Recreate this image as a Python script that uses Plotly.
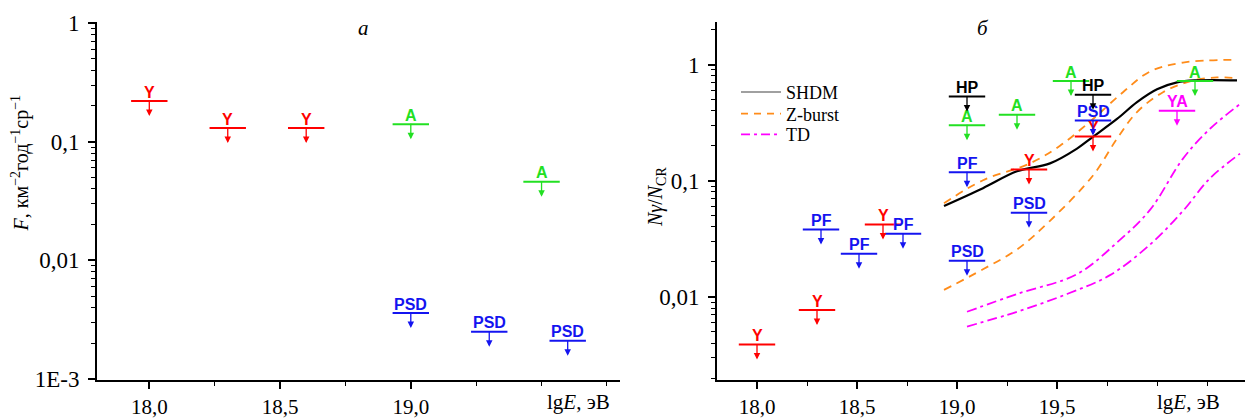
import numpy as np
import plotly.graph_objects as go

# ---------------- data ----------------
# Panel a (flux upper limits)
a_Y_x = [18.0, 18.3, 18.6]
a_Y_v = [0.22, 0.13, 0.13]
a_A_x = [19.0, 19.5]
a_A_v = [0.14, 0.046]
a_PSD_x = [19.0, 19.3, 19.6]
a_PSD_v = [0.0036, 0.0025, 0.0021]

# Panel b (photon fraction upper limits)
b_Y_x = [18.0, 18.3, 18.63, 19.36, 19.68]
b_Y_v = [0.0039, 0.0077, 0.042, 0.125, 0.24]
b_PF_x = [18.32, 18.51, 18.73, 19.05]
b_PF_v = [0.038, 0.0235, 0.035, 0.118]
b_PSD_x = [19.05, 19.36, 19.68]
b_PSD_v = [0.0205, 0.053, 0.33]
b_A_x = [19.05, 19.3, 19.57, 20.19]
b_A_v = [0.30, 0.37, 0.72, 0.72]
b_HP_x = [19.05, 19.68]
b_HP_v = [0.53, 0.55]
b_YA_x = [20.1]
b_YA_v = [0.40]

# Model curves
shdm_x = [18.935, 19.13, 19.30, 19.465, 19.60, 19.68, 19.80, 19.90, 20.00, 20.10, 20.20, 20.40]
shdm_v = [0.0607, 0.0863, 0.1205, 0.141, 0.189, 0.239, 0.340, 0.475, 0.613, 0.703, 0.731, 0.731]
zb_up_x = [18.935, 19.13, 19.365, 19.515, 19.68, 19.83, 19.965, 20.13, 20.40]
zb_up_v = [0.064, 0.101, 0.141, 0.200, 0.340, 0.578, 0.871, 1.04, 1.10]
zb_lo_x = [18.935, 19.13, 19.30, 19.465, 19.68, 19.80, 19.90, 20.03, 20.165, 20.30, 20.40]
zb_lo_v = [0.0115, 0.0173, 0.0256, 0.0452, 0.111, 0.230, 0.390, 0.578, 0.717, 0.775, 0.76]
td_up_x = [19.05, 19.30, 19.60, 19.80, 19.965, 20.13, 20.265, 20.415]
td_up_v = [0.00745, 0.0106, 0.0157, 0.0294, 0.0561, 0.155, 0.280, 0.457]
td_lo_x = [19.05, 19.30, 19.55, 19.765, 19.965, 20.13, 20.265, 20.415]
td_lo_v = [0.00556, 0.00745, 0.0106, 0.0154, 0.0282, 0.055, 0.105, 0.171]

legend_names = ["SHDM", "Z-burst", "TD"]

# ---------------- styling ----------------
RED = "#ff0000"
GREEN = "#22e022"
BLUE = "#1414f0"
BLACK = "#000000"
MAGENTA = "#ff00ff"
ORANGE = "#ff8c1a"
SERIF = "Liberation Serif"
SANS = "Liberation Sans"

W, H = 1245, 419
MT, MB = 22, 35

fig = go.Figure()
annotations = []


def add_limits(xs, vs, label, color, xa, ya):
    fig.add_trace(go.Scatter(
        x=xs, y=vs, mode="markers", xaxis=xa, yaxis=ya, showlegend=False,
        hoverinfo="skip",
        marker=dict(symbol="line-ew", size=26, color=color,
                    line=dict(color=color, width=2))))
    xref = "x" if xa == "x" else "x2"
    yref = "y" if ya == "y" else "y2"
    for x, v in zip(xs, vs):
        # label above the bar, arrow from the label through the bar pointing down
        annotations.append(dict(
            x=x, y=np.log10(v), xref=xref, yref=yref,
            text="<b>%s</b>" % label,
            showarrow=True, ax=0, ay=-24, axref="pixel", ayref="pixel",
            yshift=-15, arrowhead=2, arrowsize=1, arrowwidth=1.3,
            arrowcolor=color, borderpad=0, borderwidth=0,
            font=dict(family=SANS, size=16, color=color)))


# panel a
add_limits(a_Y_x, a_Y_v, "Y", RED, "x", "y")
add_limits(a_A_x, a_A_v, "A", GREEN, "x", "y")
add_limits(a_PSD_x, a_PSD_v, "PSD", BLUE, "x", "y")

# panel b curves
curve_style = dict(xaxis="x2", yaxis="y2", mode="lines", showlegend=False,
                   hoverinfo="skip")
fig.add_trace(go.Scatter(x=zb_up_x, y=zb_up_v, line=dict(color=ORANGE, width=1.8, dash="8px,6px", shape="spline"), **curve_style))
fig.add_trace(go.Scatter(x=zb_lo_x, y=zb_lo_v, line=dict(color=ORANGE, width=1.8, dash="8px,6px", shape="spline"), **curve_style))
fig.add_trace(go.Scatter(x=td_up_x, y=td_up_v, line=dict(color=MAGENTA, width=1.8, dash="10px,4px,3px,4px", shape="spline"), **curve_style))
fig.add_trace(go.Scatter(x=td_lo_x, y=td_lo_v, line=dict(color=MAGENTA, width=1.8, dash="10px,4px,3px,4px", shape="spline"), **curve_style))
fig.add_trace(go.Scatter(x=shdm_x, y=shdm_v, line=dict(color=BLACK, width=2.2, shape="spline"), **curve_style))

# legend entries (one legend per entry so the rows can be spaced freely)
fig.add_trace(go.Scatter(x=[None], y=[None], xaxis="x2", yaxis="y2", mode="lines",
                         name=legend_names[0], legend="legend",
                         line=dict(color="#808080", width=1.5)))
fig.add_trace(go.Scatter(x=[None], y=[None], xaxis="x2", yaxis="y2", mode="lines",
                         name=legend_names[1], legend="legend2",
                         line=dict(color=ORANGE, width=1.8, dash="7px,6px")))
fig.add_trace(go.Scatter(x=[None], y=[None], xaxis="x2", yaxis="y2", mode="lines",
                         name=legend_names[2], legend="legend3",
                         line=dict(color=MAGENTA, width=1.8, dash="9px,4px,3px,4px")))

# panel b limits
add_limits(b_Y_x, b_Y_v, "Y", RED, "x2", "y2")
add_limits(b_PF_x, b_PF_v, "PF", BLUE, "x2", "y2")
add_limits(b_PSD_x, b_PSD_v, "PSD", BLUE, "x2", "y2")
add_limits(b_A_x, b_A_v, "A", GREEN, "x2", "y2")
add_limits(b_HP_x, b_HP_v, "HP", BLACK, "x2", "y2")
add_limits(b_YA_x, b_YA_v, "YA", MAGENTA, "x2", "y2")


def py(pix):
    return (H - MB - pix) / (H - MT - MB)


# axis titles / panel letters
annotations += [
    dict(x=20 / W, y=py(165), xref="paper", yref="paper", textangle=-90,
         xanchor="center", yanchor="middle",
         text="<i>F</i>, км<sup>−2</sup>год<sup>−1</sup>ср<sup>−1</sup>",
         showarrow=False, font=dict(family=SERIF, size=20, color="black")),
    dict(x=656 / W, y=py(199), xref="paper", yref="paper", textangle=-90,
         xanchor="center", yanchor="middle",
         text="<i>N</i><i>γ</i>/<i>N</i><sub>CR</sub>",
         showarrow=False, font=dict(family=SERIF, size=20, color="black")),
    dict(x=363 / W, y=py(28), xref="paper", yref="paper", text="<i>а</i>",
         xanchor="center", yanchor="middle",
         showarrow=False, font=dict(family=SERIF, size=21, color="black")),
    dict(x=983 / W, y=py(28), xref="paper", yref="paper", text="<i>б</i>",
         xanchor="center", yanchor="middle",
         showarrow=False, font=dict(family=SERIF, size=21, color="black")),
    dict(x=19.5, y=py(406), xref="x", yref="paper", xanchor="left", yanchor="middle",
         xshift=3, text="lg<i>E</i>, эВ", showarrow=False,
         font=dict(family=SERIF, size=21, color="black")),
    dict(x=20.0, y=py(406), xref="x2", yref="paper", xanchor="left", yanchor="middle",
         xshift=-2, text="lg<i>E</i>, эВ", showarrow=False,
         font=dict(family=SERIF, size=21, color="black")),
]

minor_log = [m * 10.0 ** e for e in range(-4, 1) for m in range(2, 10)]
minor_x = dict(ticks="outside", ticklen=4, tickwidth=1, tickcolor="black", showgrid=False)

common_x = dict(showline=True, linecolor="black", linewidth=2, ticks="outside",
                ticklen=7, tickwidth=1.5, tickcolor="black", showgrid=False,
                zeroline=False, tickfont=dict(family=SERIF, size=21, color="black"))
common_y = dict(type="log", showline=True, linecolor="black", linewidth=2,
                ticks="outside", ticklen=7, tickwidth=1.5, tickcolor="black",
                showgrid=False, zeroline=False, ticklabelstandoff=4,
                tickfont=dict(family=SERIF, size=23, color="black"),
                minor=dict(tickvals=minor_log, ticks="outside", ticklen=4,
                           tickwidth=1, tickcolor="black", showgrid=False))

leg_common = dict(xanchor="left", yanchor="middle", bgcolor="rgba(0,0,0,0)",
                  font=dict(family=SERIF, size=18, color="black"), itemwidth=40)

fig.update_layout(
    width=W, height=H,
    margin=dict(l=0, r=0, t=MT, b=MB),
    paper_bgcolor="white", plot_bgcolor="white",
    showlegend=True,
    legend=dict(x=736 / W, y=py(93), **leg_common),
    legend2=dict(x=736 / W, y=py(115), **leg_common),
    legend3=dict(x=736 / W, y=py(136), **leg_common),
    xaxis=dict(domain=[97 / W, 620 / W], range=[17.8, 19.8], anchor="y",
               tickvals=[18.0, 18.5, 19.0], ticktext=["18,0", "18,5", "19,0"],
               minor=dict(tickvals=[18.25, 18.75, 19.25, 19.5, 19.75], **minor_x),
               **common_x),
    yaxis=dict(domain=[0, 1], range=[-3.008, 0.008], anchor="x",
               tickvals=[0.001, 0.01, 0.1, 1], ticktext=["1E-3", "0,01", "0,1", "1"],
               **common_y),
    xaxis2=dict(domain=[717 / W, 1.0], range=[17.8, 20.44], anchor="y2",
                tickvals=[18.0, 18.5, 19.0, 19.5],
                ticktext=["18,0", "18,5", "19,0", "19,5"],
                minor=dict(tickvals=[18.25, 18.75, 19.25, 19.75, 20.0, 20.25], **minor_x),
                **common_x),
    yaxis2=dict(domain=[0, 1], range=[-2.715, 0.366], anchor="x2",
                tickvals=[0.01, 0.1, 1], ticktext=["0,01", "0,1", "1"],
                **common_y),
    annotations=annotations,
)

fig.write_html("out.html")
